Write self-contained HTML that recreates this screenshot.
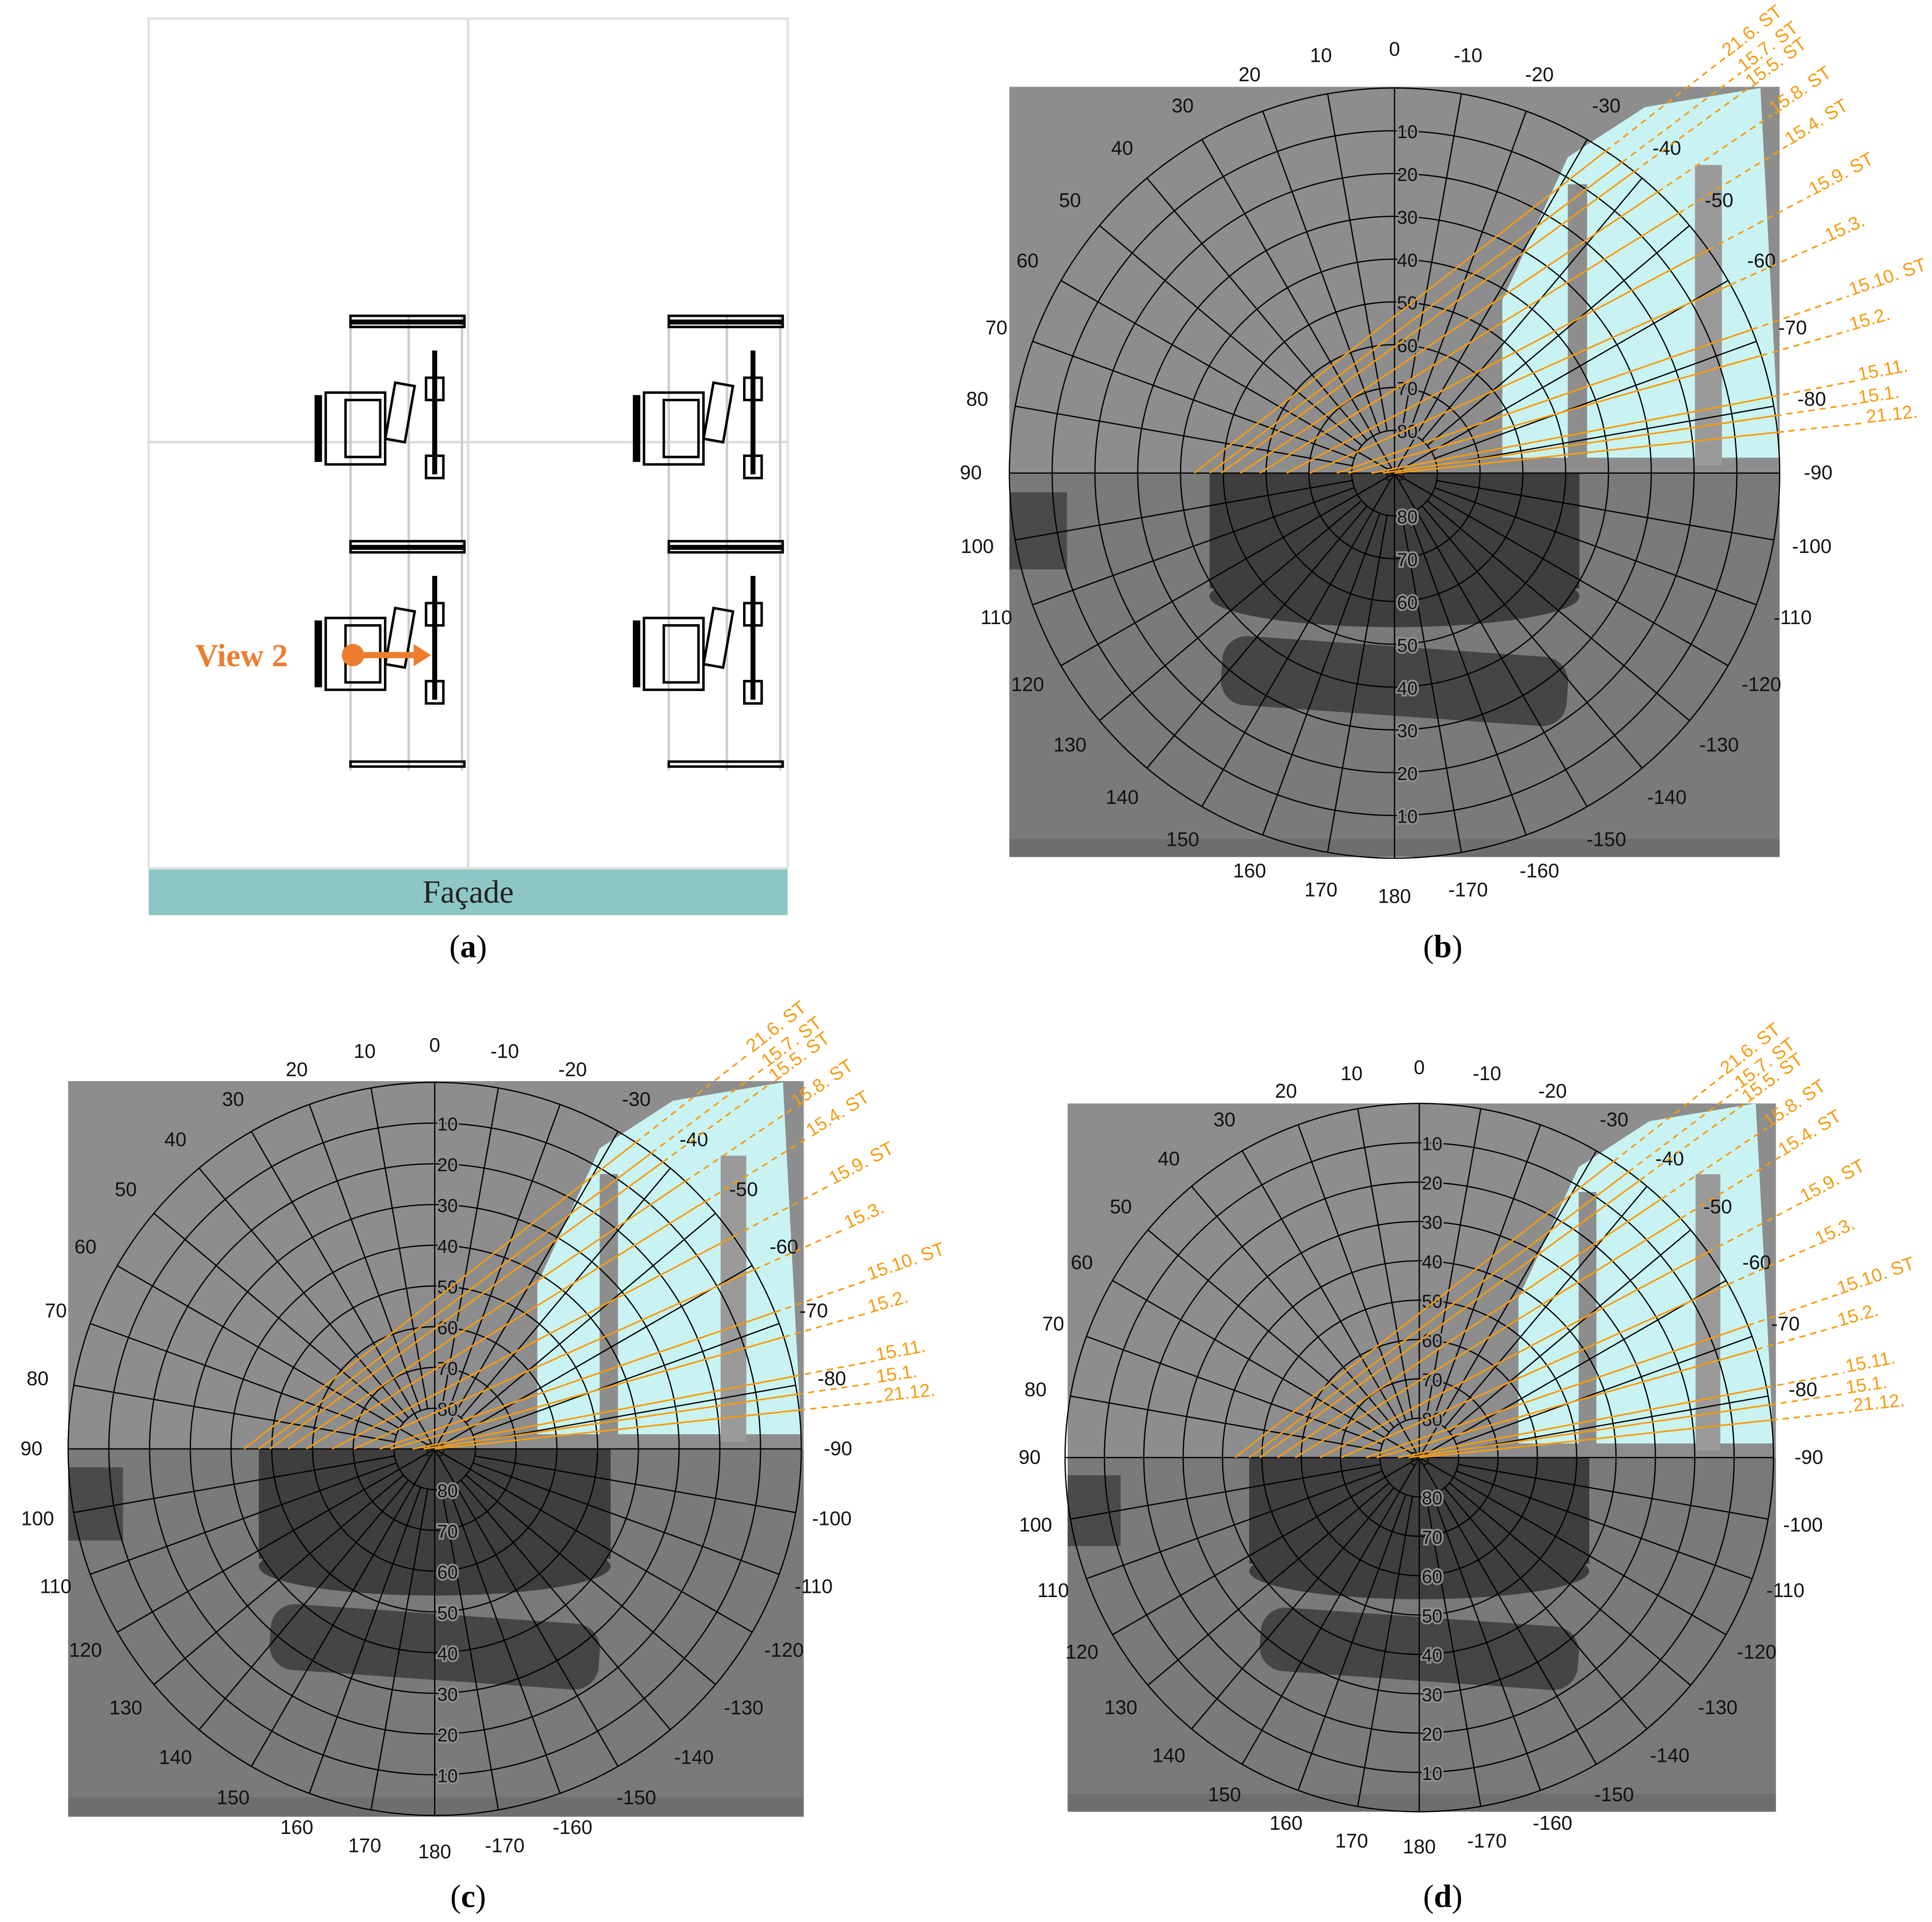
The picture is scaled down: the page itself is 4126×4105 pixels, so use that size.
<!DOCTYPE html>
<html><head><meta charset="utf-8"><style>
html,body{margin:0;padding:0;background:#fff;overflow:hidden;width:4126px;height:4105px;}
svg{display:block;}
</style></head><body>
<svg id="fig" xmlns="http://www.w3.org/2000/svg" width="4126" height="4105" viewBox="0 0 1560 1552" font-family="Liberation Sans, sans-serif" overflow="hidden">
<rect width="1560" height="1552" fill="#fff"/>
<g id="panelA">
  <rect x="120" y="15" width="516" height="686" fill="#fff" stroke="#e2e2e2" stroke-width="2"/>
  <line x1="378" y1="15" x2="378" y2="701" stroke="#ddd" stroke-width="2"/>
  <line x1="120" y1="357" x2="636" y2="357" stroke="#ddd" stroke-width="2"/>
  <rect x="120" y="702" width="516" height="37" fill="#8cc7c5"/>
  <text x="378" y="729" text-anchor="middle" font-family="Liberation Serif, serif" font-size="26" fill="#222">Façade</text>
  <text x="378" y="773" text-anchor="middle" font-family="Liberation Serif, serif" font-size="26">(<tspan font-weight="bold">a</tspan>)</text>
</g>
<text x="1165" y="773" text-anchor="middle" font-family="Liberation Serif, serif" font-size="26">(<tspan font-weight="bold">b</tspan>)</text>
<text x="378" y="1540" text-anchor="middle" font-family="Liberation Serif, serif" font-size="26">(<tspan font-weight="bold">c</tspan>)</text>
<text x="1165" y="1540" text-anchor="middle" font-family="Liberation Serif, serif" font-size="26">(<tspan font-weight="bold">d</tspan>)</text>
</svg>
<script>
const NS='http://www.w3.org/2000/svg';
const svg=document.getElementById('fig');
function el(tag,attrs,parent){const e=document.createElementNS(NS,tag);for(const k in attrs)e.setAttribute(k,attrs[k]);(parent||svg).appendChild(e);return e;}

// ---- chart data ----
const ringAltitudes=[0,10,20,30,40,50,60,70,80];
const azimuthLabels=[0,-10,-20,-30,-40,-50,-60,-70,-80,-90,-100,-110,-120,-130,-140,-150,-160,-170,180,170,160,150,140,130,120,110,100,90,80,70,60,50,40,30,20,10];
const sunDates=['21.6. ST','15.7. ST','15.5. ST','15.8. ST','15.4. ST','15.9. ST','15.3.','15.10. ST','15.2.','15.11.','15.1.','21.12.'];
const sunEndU=[0.86,0.9,0.92,0.98,1.02,1.08,1.12,1.18,1.18,1.2,1.2,1.22];
const sunEndV=[-1.08,-1.04,-1.0,-0.93,-0.85,-0.72,-0.6,-0.46,-0.37,-0.24,-0.18,-0.13];
const sunStartU=[-0.52,-0.48,-0.45,-0.40,-0.35,-0.28,-0.22,-0.15,-0.12,-0.06,-0.03,0.0];

// ---- panel a furniture ----
const pa=document.getElementById('panelA');
function station(x,y){
  const g=el('g',{fill:'none',stroke:'#000','stroke-width':2},pa);
  el('line',{x1:x+28,y1:y,x2:x+28,y2:y+185,stroke:'#ccc'},g);el('line',{x1:x+75,y1:y,x2:x+75,y2:y+185,stroke:'#ccc'},g);
  el('line',{x1:x+118,y1:y,x2:x+118,y2:y+185,stroke:'#ccc'},g);
  el('rect',{x:x+28,y:y,width:92,height:4},g);el('rect',{x:x+28,y:y+6,width:92,height:3},g);
  el('rect',{x:x,y:y+65,width:4,height:52,fill:'#000'},g);
  el('rect',{x:x+8,y:y+62,width:48,height:58},g);el('rect',{x:x+24,y:y+68,width:28,height:46},g);
  el('rect',{x:x+60,y:y+55,width:16,height:46,transform:`rotate(10 ${x+68} ${y+78})`},g);
  el('line',{x1:x+96,y1:y+28,x2:x+96,y2:y+128,'stroke-width':4},g);
  el('rect',{x:x+89,y:y+50,width:14,height:18},g);el('rect',{x:x+89,y:y+113,width:14,height:18},g);
}
station(255,255);station(512,255);station(255,437);station(512,437);
el('rect',{x:283,y:615,width:92,height:4,fill:'none',stroke:'#000','stroke-width':2},pa);
el('rect',{x:540,y:615,width:92,height:4,fill:'none',stroke:'#000','stroke-width':2},pa);
const v2=el('text',{x:195,y:538,'text-anchor':'middle','font-family':'Liberation Serif, serif','font-size':26,'font-weight':'bold',fill:'#ec7d2f'},pa);


v2.textContent='View 2';
el('circle',{cx:285,cy:529,r:9,fill:'#ec7d2f'},pa);
el('line',{x1:285,y1:529,x2:336,y2:529,stroke:'#ec7d2f','stroke-width':5},pa);
el('polygon',{points:'348,529 334,520 334,538',fill:'#ec7d2f'},pa);

// ---- polar panels ----
function panel(name,cx,cy,R,rx,ry,rw,rh){
  const g=el('g',{});
  
  
  const id='clip'+name;
  const cp=el('clipPath',{id:id},g);el('rect',{x:rx,y:ry,width:rw,height:rh},cp);
  const bg=el('g',{'clip-path':`url(#${id})`},g);
  el('rect',{x:rx,y:ry,width:rw,height:rh,fill:'#8d8d8d'},bg);
  el('rect',{x:rx,y:cy,width:rw,height:rh-(cy-ry),fill:'#7a7a7a'},bg);
  const pts=[[0.28,-0.04],[0.28,-0.45],[0.45,-0.82],[0.65,-0.95],[0.95,-1.0],[1.0,-0.04]].map(p=>[cx+p[0]*R,cy+p[1]*R]);
  el('polygon',{points:pts.map(p=>p.join(',')).join(' '),fill:'#c9f3f3'},bg);
  el('rect',{x:cx+0.45*R,y:cy-0.75*R,width:0.05*R,height:0.72*R,fill:'#8d8d8d'},bg);
  el('rect',{x:cx+0.78*R,y:cy-0.8*R,width:0.07*R,height:0.78*R,fill:'#9a9a9a'},bg);
  el('rect',{x:cx-0.48*R,y:cy,width:0.96*R,height:0.3*R,fill:'#3e3e3e'},bg);
  el('ellipse',{cx:cx,cy:cy+0.32*R,rx:0.48*R,ry:0.08*R,fill:'#3e3e3e'},bg);
  el('rect',{x:cx-0.45*R,y:cy+0.45*R,width:0.9*R,height:0.18*R,rx:20,fill:'#454545',transform:`rotate(4 ${cx} ${cy+0.54*R})`},bg);
  el('rect',{x:rx,y:cy+0.05*R,width:0.15*R,height:0.2*R,fill:'#4a4a4a'},bg);
  el('rect',{x:rx,y:cy+0.95*R,width:rw,height:rh,fill:'#6e6e6e'},bg);
  const gg=el('g',{fill:'none',stroke:'#000','stroke-width':1},g);
  ringAltitudes.forEach(a=>{el('circle',{cx:cx,cy:cy,r:(90-a)/90*R},gg);});
  for(let az=0;az<360;az+=10){const t=az*Math.PI/180;const r0=az%30===0?0:R/9;
    el('line',{x1:cx+r0*Math.sin(t),y1:cy-r0*Math.cos(t),x2:cx+R*Math.sin(t),y2:cy-R*Math.cos(t)},gg);}
  azimuthLabels.forEach(v=>{const ang=-v*Math.PI/180;const rr=R*1.1;
    const t=el('text',{x:cx+rr*Math.sin(ang),y:cy-rr*Math.cos(ang)+5,'text-anchor':'middle','font-size':16,fill:'#111'},g);t.textContent=v;});
  ringAltitudes.slice(1).forEach(a=>{const r=(90-a)/90*R;
    [cy-r,cy+r].forEach(y=>{const t=el('text',{x:cx+2,y:y+6,'font-size':15,'text-anchor':'start',fill:'#111',stroke:'#8d8d8d','stroke-width':3,'paint-order':'stroke'},g);t.textContent=a;});});
  const c90=el('text',{x:cx,y:cy+6,'font-size':15,'text-anchor':'middle',fill:'#111'},g);c90.textContent='90';
  const sg=el('g',{stroke:'#f39c12','stroke-width':1.3,fill:'none'},g);
  sunDates.forEach((d,i)=>{
    const x0=cx+sunStartU[i]*R,y0=cy,x1=cx+sunEndU[i]*R,y1=cy+sunEndV[i]*R;
    let lo=0,hi=1;for(let k=0;k<30;k++){const m=(lo+hi)/2;const x=x0+(x1-x0)*m,y=y0+(y1-y0)*m;if(Math.hypot(x-cx,y-cy)<R)lo=m;else hi=m;}
    const xm=x0+(x1-x0)*lo,ym=y0+(y1-y0)*lo;
    const ln=el('line',{x1:x0,y1:y0,x2:xm,y2:ym},sg);
    
    
    el('line',{x1:xm,y1:ym,x2:x1,y2:y1,'stroke-dasharray':'5,4'},sg);
    const ang=Math.atan2(y1-y0,x1-x0)*180/Math.PI;
    const t=el('text',{x:x1+2,y:y1,'font-size':15,fill:'#f39c12',stroke:'none',transform:`rotate(${ang} ${x1+2} ${y1})`},g);
    t.textContent=d;
  });
}
panel('panel-b-sun-path',1126,382,311,815,70,622,622);
panel('panel-c-sun-path',351,1170,296,55,873,594,594);
panel('panel-d-sun-path',1146,1177,286,862,891,572,572);
</script>
</body></html>
